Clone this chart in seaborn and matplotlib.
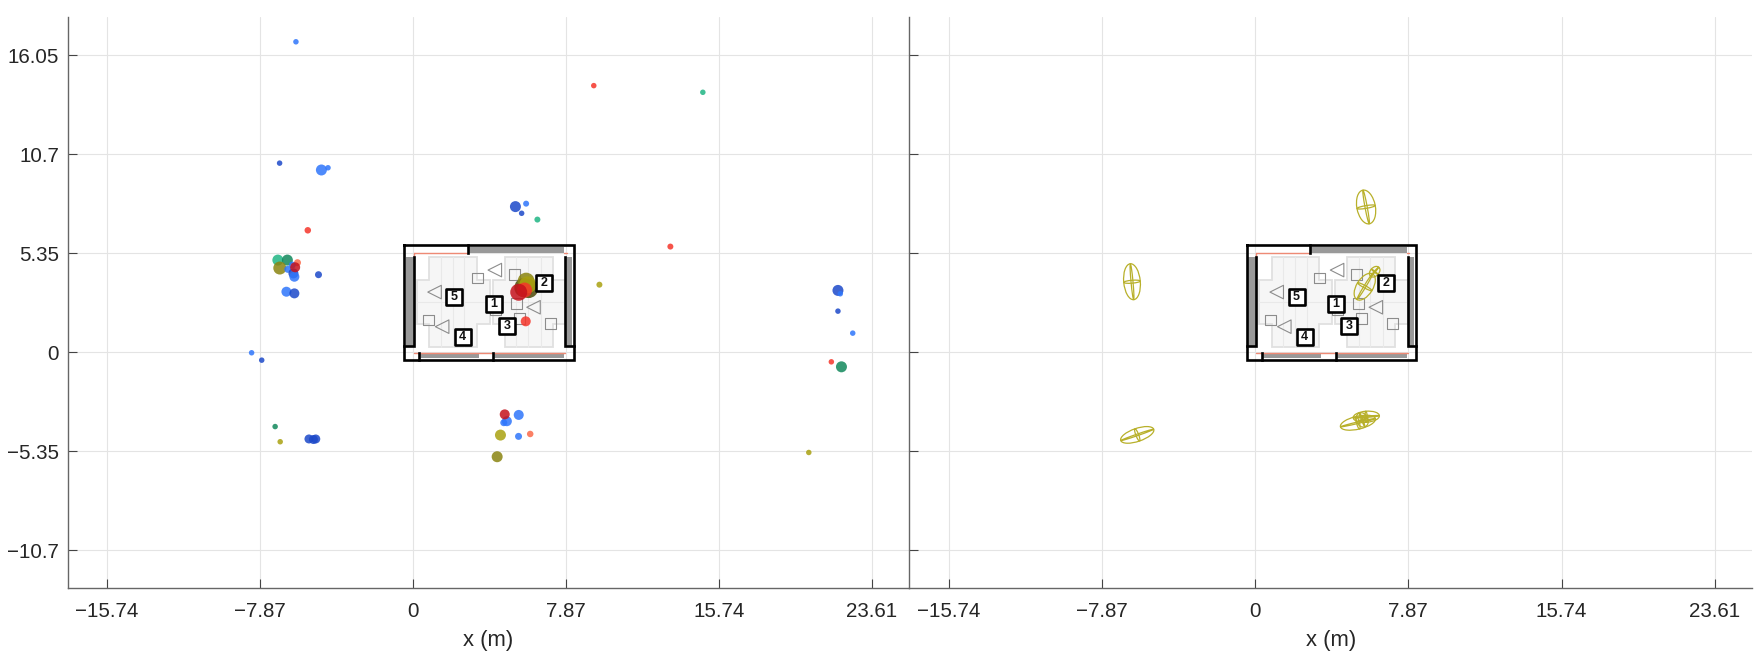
import matplotlib
matplotlib.use("Agg")
import matplotlib.pyplot as plt
import pandas as pd
import seaborn as sns
from matplotlib.patches import Ellipse, Polygon, Rectangle

# detections, left panel
det_x = [-6.02, 9.30, 14.91, -6.86, -4.71, -4.37, -5.41, -6.95, -6.46, -6.85, -5.94, -6.21, -6.44, -6.15, -6.10,
         -4.86, -6.51, -6.10, -6.06,
         5.82, 5.27, 5.59, 6.40, 13.24, 9.59, 21.86, 21.98, 21.86, 22.62, 21.52, 22.04, 20.36,
         -8.30, -7.78, -7.09, -6.83, -5.35, -5.12, -5.00,
         4.83, 4.67, 5.44, 4.72, 4.50, 5.43, 6.03, 4.33,
         5.95, 5.70, 5.82, 5.90, 5.74, 5.44, 5.80]
det_y = [16.79, 14.42, 14.06, 10.23, 9.86, 9.98, 6.60, 4.99, 4.99, 4.56, 4.85, 4.72, 4.49, 4.27, 4.09,
         4.20, 3.28, 3.19, 4.60,
         8.04, 7.88, 7.52, 7.18, 5.72, 3.66, 3.35, 3.17, 2.23, 1.04, -0.51, -0.78, -5.41,
         -0.02, -0.42, -4.01, -4.83, -4.68, -4.71, -4.68,
         -3.72, -3.80, -3.38, -3.35, -4.47, -4.54, -4.41, -5.64,
         3.45, 3.50, 3.85, 3.65, 3.37, 3.25, 1.68]
det_kind = ["blue", "red", "teal", "navy", "blue", "blue", "red", "teal", "green", "olive", "coral", "blue", "blue",
            "navy", "blue", "navy", "blue", "navy", "crimson",
            "blue", "navy", "navy", "teal", "red", "yellow", "navy", "blue", "navy", "blue", "red", "green", "yellow",
            "blue", "navy", "green", "yellow", "navy", "navy", "navy",
            "blue", "blue", "blue", "crimson", "yellow", "blue", "coral", "olive",
            "dark", "dark", "olive", "yellow", "red", "crimson", "red"]
det_diam = [5.5, 5.5, 5.5, 5.5, 11, 5.5, 6.5, 11, 11, 13, 7, 7, 7, 10, 10, 7, 10, 10, 10,
            6, 11, 5.5, 6, 6, 6, 11, 5.5, 5.5, 5.5, 5.5, 11, 5.5,
            5.5, 5.5, 5.5, 5.5, 9, 9, 9,
            10, 7, 10, 10, 11, 7, 6.5, 11,
            19, 19, 17, 17, 15, 17, 10]

kind_colors = {"blue": "#2f76fb", "navy": "#1c49c9", "red": "#f5352a", "crimson": "#c5121c", "coral": "#fb6a4a",
               "teal": "#1fb584", "green": "#12885c", "olive": "#8a8410", "yellow": "#a9a110", "dark": "#4e4a08"}
sizes_map = {d: (0.72 * d) ** 2 for d in set(det_diam)}

# ellipsoid fits, right panel: centre x, y, long axis, short axis (m), angle
ell_x = [-6.32, -6.05, 5.28, 5.71, 5.50, 5.70, 5.63, 6.14]
ell_y = [3.82, -4.46, -3.80, -3.48, -3.65, 7.86, 3.55, 4.36]
ell_long = [1.95, 1.8, 1.85, 1.35, 0.8, 1.85, 1.6, 0.65]
ell_short = [0.85, 0.7, 0.7, 0.6, 0.6, 0.95, 0.85, 0.45]
ell_angle = [95, 20, 14, 5, 110, 100, 60, 50]

# room
floor_xl = [0.85, 3.28, 3.28, 3.94, 3.94, 3.28, 3.28, 0.85, 0.85, 0.21, 0.21, 0.85]
floor_xr = [4.71, 7.19, 7.19, 7.83, 7.83, 7.19, 7.19, 4.71, 4.71, 4.11, 4.11, 4.71]
floor_y = [5.14, 5.14, 3.91, 3.91, 1.52, 1.52, 0.31, 0.31, 1.52, 1.52, 3.91, 3.91]
floor_cols = [1.45, 2.05, 2.65, 5.31, 5.91, 6.56]
floor_row = 2.74
square_x = [3.32, 5.20, 5.32, 5.48, 7.07, 0.78, 4.24]
square_y = [4.02, 4.22, 2.62, 1.84, 1.54, 1.75, 2.29]
tri_x = [4.21, 1.11, 6.20, 1.50]
tri_y = [4.45, 3.26, 2.44, 1.39]
box_x = [4.16, 6.73, 4.83, 2.55, 2.13]
box_y = [2.62, 3.77, 1.44, 0.83, 3.01]
box_labels = ["1", "2", "3", "4", "5"]
# x0, x1, y0, y1
gray_walls = [(2.82, 7.79, 5.39, 5.70), (-0.35, 0.03, 0.36, 5.17), (7.83, 8.17, 0.36, 5.17),
              (0.33, 3.39, -0.32, -0.01), (4.14, 7.79, -0.32, -0.01)]
black_lines = [([-0.44, 8.26, 8.26, -0.44, -0.44], [5.8, 5.8, -0.41, -0.41, 5.8]),
               ([2.82, 2.82], [5.8, 5.39]), ([0.03, 0.03, -0.44], [5.17, 0.36, 0.36]),
               ([7.83, 7.83, 8.26], [5.17, 0.36, 0.36]), ([0.33, 0.33], [-0.41, -0.01]),
               ([4.14, 4.14], [-0.41, -0.01])]
coral_lines = [([0.03, 2.82], [5.35, 5.35]), ([7.79, 7.92], [5.35, 5.35]), ([0.03, 0.03], [5.35, 5.17]),
               ([0.03, 7.83], [-0.03, -0.03])]

x_ticks = [-15.74, -7.87, 0, 7.87, 15.74, 23.61]
y_ticks = [-10.7, -5.35, 0, 5.35, 10.7, 16.05]
x_tick_labels = ["\u221215.74", "\u22127.87", "0", "7.87", "15.74", "23.61"]
y_tick_labels = ["\u221210.7", "\u22125.35", "0", "5.35", "10.7", "16.05"]

sns.set_theme(style="white")
plt.rcParams["font.family"] = ["Liberation Sans", "DejaVu Sans"]
W, H = 1765, 664


def draw_room(ax):
    for xs in (floor_xl, floor_xr):
        ax.add_patch(Polygon(list(zip(xs, floor_y)), closed=True, fc="#f6f6f6", ec="#e0e0e0", lw=1.3, zorder=2))
    for cx in floor_cols:
        ax.plot([cx, cx], [0.31, 5.14], color="#e9e9e9", lw=0.8, zorder=2)
    ax.plot([0.21, 3.94], [floor_row, floor_row], color="#e9e9e9", lw=0.8, zorder=2)
    ax.plot([4.11, 7.83], [floor_row, floor_row], color="#e9e9e9", lw=0.8, zorder=2)
    for x0, x1, y0, y1 in gray_walls:
        ax.add_patch(Rectangle((x0, y0), x1 - x0, y1 - y0, fc="#999999", ec="none", zorder=2.2))
    for xs, ys in coral_lines:
        ax.plot(xs, ys, color="#ee8a75", lw=1.0, zorder=2.3)
    for xs, ys in black_lines:
        ax.plot(xs, ys, color="black", lw=1.9, zorder=2.5, solid_joinstyle="miter", solid_capstyle="projecting")
    sns.scatterplot(x=square_x, y=square_y, marker="s", s=62, color="white", edgecolor="#8c8c8c",
                    linewidth=0.8, ax=ax, zorder=3)
    # hollow markers let the floor show through
    ax.collections[-1].set_facecolor("none")
    sns.scatterplot(x=tri_x, y=tri_y, marker="<", s=95, color="white", edgecolor="#8c8c8c",
                    linewidth=0.8, ax=ax, zorder=3)
    ax.collections[-1].set_facecolor("none")


def draw_boxes(ax):
    sns.scatterplot(x=box_x, y=box_y, marker="s", s=125, color="white", edgecolor="black",
                    linewidth=1.9, ax=ax, zorder=6)
    for bx, by, lab in zip(box_x, box_y, box_labels):
        ax.text(bx, by, lab, ha="center", va="center", fontsize=9, fontweight="bold", color="#111111", zorder=7)


def style_axes(ax):
    ax.set_xlim(-17.77, 25.54)
    ax.set_ylim(-12.72, 18.13)
    ax.set_xticks(x_ticks, x_tick_labels)
    ax.set_yticks(y_ticks)
    ax.grid(True, color="#e4e4e4", lw=0.8)
    ax.set_axisbelow(True)
    for side in ("top", "right"):
        ax.spines[side].set_visible(False)
    for side in ("left", "bottom"):
        ax.spines[side].set_color("#666666")
        ax.spines[side].set_linewidth(1.0)
    ax.tick_params(direction="in", length=6.5, width=0.8, color="#444444", labelsize=14.8,
                   labelcolor="#262626", left=True, bottom=True)
    ax.tick_params(axis="x", pad=10)
    ax.tick_params(axis="y", pad=6)
    ax.set_xlabel("x (m)", fontsize=15.8, color="#262626", labelpad=7)
    ax.set_ylabel("")


fig = plt.figure(figsize=(W / 100, H / 100), dpi=100, facecolor="white")
bottom = (H - 587.7) / H
height = 570.7 / H
ax1 = fig.add_axes([67.5 / W, bottom, 842 / W, height])
ax2 = fig.add_axes([909 / W, bottom, 843.5 / W, height])

df = pd.DataFrame({"x": det_x, "y": det_y, "kind": det_kind, "diam": det_diam})

# --- left: detections ---
draw_room(ax1)
sns.scatterplot(data=df, x="x", y="y", hue="kind", palette=kind_colors, size="diam", sizes=sizes_map,
                alpha=0.85, linewidth=0, legend=False, ax=ax1, zorder=4)
draw_boxes(ax1)
style_axes(ax1)
ax1.set_yticklabels(y_tick_labels)

# --- right: ellipsoids ---
draw_room(ax2)
for ex, ey, el, es, ea in zip(ell_x, ell_y, ell_long, ell_short, ell_angle):
    for w, h, a in [(el, es, ea), (el, es * 0.12, ea), (es, el * 0.08, ea + 90)]:
        ax2.add_patch(Ellipse((ex, ey), w, h, angle=a, fc="none", ec="#b8b02a", lw=0.9, zorder=5))
draw_boxes(ax2)
style_axes(ax2)
ax2.tick_params(labelleft=False)

fig.savefig("out.png", dpi=100)
